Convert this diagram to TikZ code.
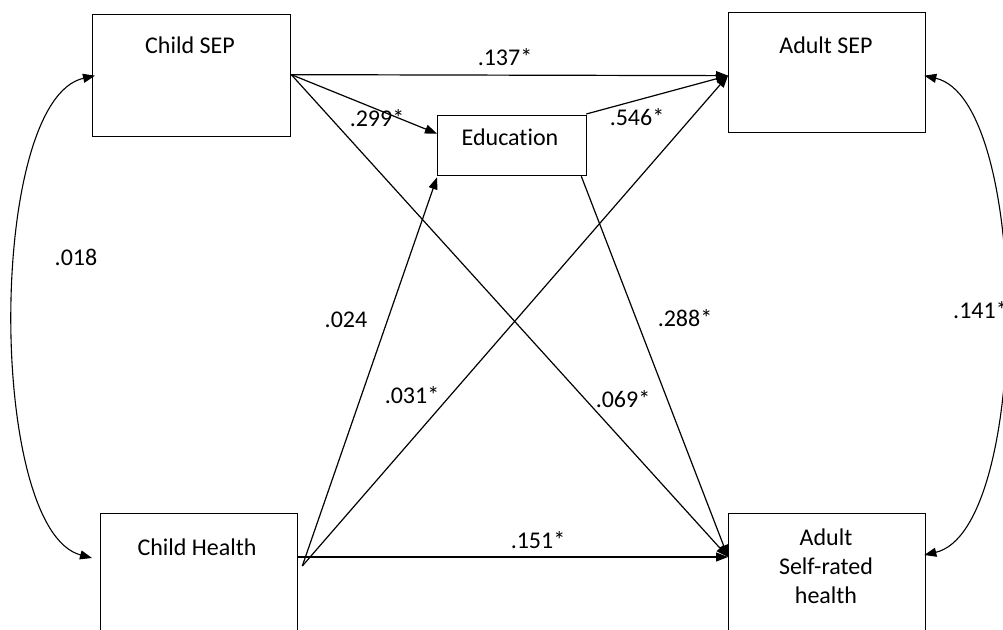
\documentclass[tikz,border=0pt]{standalone}
\usepackage{fontspec}
\setmainfont[Ligatures={NoCommon}]{Carlito}
\usetikzlibrary{arrows.meta,calc}

\begin{document}
\begin{tikzpicture}[x=1pt,y=-1pt,
  every node/.style={font=\fontsize{24}{29}\selectfont},
  varbox/.style={draw=black,line width=1.3pt,anchor=north west,inner sep=0pt},
  boxtext/.style={align=center,inner sep=0pt},
  coef/.style={inner sep=0pt},
  path/.style={draw=black,line width=1.2pt,-{Triangle[length=12pt,width=9pt]}},
  cov/.style={draw=black,line width=1.1pt,{Triangle[length=12pt,width=9pt]}-{Triangle[length=12pt,width=9pt]}}]

\useasboundingbox (0,0) rectangle (1003,629);
\clip (0,0) rectangle (1003,629);

% variable boxes (the lower two run past the bottom edge)
\node[varbox,minimum width=198pt,minimum height=122pt] (csep)  at (92,14)   {};
\node[varbox,minimum width=197pt,minimum height=120pt] (asep)  at (728,12)  {};
\node[varbox,minimum width=149pt,minimum height=60pt]  (edu)   at (437,115) {};
\node[varbox,minimum width=197pt,minimum height=150pt] (chl)   at (100,513) {};
\node[varbox,minimum width=197pt,minimum height=150pt] (ahl)   at (728,513) {};

% box captions
\node[boxtext] (cseptxt) at (190,45)  {Child SEP};
\node[boxtext] (aseptxt) at (826,45)  {Adult SEP};
\node[boxtext] (edutxt)  at (510,137) {Education};
\node[boxtext] (chltxt)  at (197,547) {Child Health};
\node[boxtext] (ahltxt)  at (826,566) {Adult\\Self-rated\\health};

% connection points on the boxes
\coordinate (csepR) at ($(csep.east)+(0,-1)$);
\coordinate (csepL) at ($(csep.west)+(3,0)$);
\coordinate (asepL) at ($(asep.west)+(0,3)$);
\coordinate (asepR) at ($(asep.east)+(-2,3)$);
\coordinate (eduL)  at ($(edu.west)+(0,-12)$);
\coordinate (eduBL) at ($(edu.south west)+(0,1)$);
\coordinate (eduTR) at ($(edu.north east)+(-1,-1)$);
\coordinate (eduBR) at ($(edu.south east)+(-6,0)$);
\coordinate (chlR)  at ($(chl.north east)+(0,44)$);
\coordinate (chlO)  at ($(chl.north east)+(4,53)$);
\coordinate (chlL)  at ($(chl.north west)+(-8,45)$);
\coordinate (ahlL)  at ($(ahl.north west)+(0,44)$);
\coordinate (ahlR)  at ($(ahl.north east)+(-2,42)$);

% directed paths
\draw[path] (csepR) -- (asepL);
\draw[path] (csepR) -- (eduL);
\draw[path] (csepR) -- (ahlL);
\draw[path] (eduTR) -- (asepL);
\draw[path] (eduBR) -- (ahlL);
\draw[path] (chlO) -- (eduBL);
\draw[path] (chlO) -- (asepL);
\draw[path] (chlR) -- (ahlL);

% covariances
\draw[cov] (csepL) .. controls (-13,100) and (-13,530) .. (chlL);
\draw[cov] (asepR) .. controls (1031,100) and (1031,530) .. (ahlR);

% coefficients
\node[coef] (c137) at (505,57)  {.137*};
\node[coef] (c299) at (377,118) {.299*};
\node[coef] (c546) at (637,117) {.546*};
\node[coef] (c018) at (76,257)  {.018};
\node[coef] (c024) at (346,320) {.024};
\node[coef] (c031) at (412,395) {.031*};
\node[coef] (c288) at (685,318) {.288*};
\node[coef] (c069) at (623,399) {.069*};
\node[coef] (c151) at (538,540) {.151*};
\node[coef,anchor=west] (c141) at (953,310) {.141*};
\end{tikzpicture}
\end{document}
